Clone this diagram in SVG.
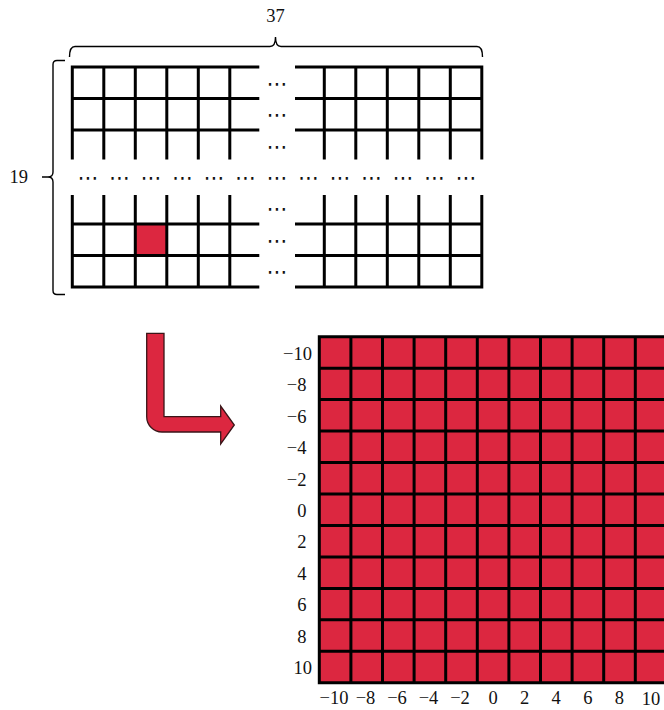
<svg xmlns="http://www.w3.org/2000/svg" width="664" height="710" viewBox="0 0 664 710">
<style>
.g{stroke:#000;stroke-width:3;fill:none;stroke-linecap:square}
.br{stroke:#000;stroke-width:1.4;fill:none}
.t{font-family:"Liberation Serif","DejaVu Serif",serif;font-size:18.5px;fill:#111}
.d{font-family:"DejaVu Sans",sans-serif;font-size:21px;fill:#111;text-anchor:middle}
.m{text-anchor:middle}
.e{text-anchor:end}
</style>
<rect width="664" height="710" fill="#fff"/>
<g id="brace-top">
<path class="br" d="M69.5,57 Q69.5,46.5 75,46.5 L270,46.5 Q275.5,46.5 275.5,37 Q275.5,46.5 281,46.5 L477,46.5 Q482.5,46.5 482.5,57"/>
<text class="t m" x="275.5" y="22">37</text>
</g>
<g id="brace-left">
<path class="br" d="M65,60.5 L57,60.5 Q53,60.5 53,64.5 L53,172 Q53,177 48,177 L42,177 M48,177 Q53,177 53,182 L53,290.5 Q53,294.5 57,294.5 L65,294.5"/>
<text class="t m" x="18.8" y="183">19</text>
</g>
<g id="input-grid">
<rect x="135.3" y="224" width="31.5" height="31.5" fill="#DC2740"/>
<path class="g" d="M72.3,67H257.8M72.3,98.5H257.8M72.3,130H257.8M296.5,67H481.8M296.5,98.5H481.8M296.5,130H481.8
M72.3,67V158M103.8,67V158M135.3,67V158M166.8,67V158M198.3,67V158M229.8,67V158
M324.3,67V158M355.8,67V158M387.3,67V158M418.8,67V158M450.3,67V158M481.8,67V158
M72.3,224H257.8M72.3,255.5H257.8M72.3,287H257.8M296.5,224H481.8M296.5,255.5H481.8M296.5,287H481.8
M72.3,196.5V287M103.8,196.5V287M135.3,196.5V287M166.8,196.5V287M198.3,196.5V287M229.8,196.5V287
M324.3,196.5V287M355.8,196.5V287M387.3,196.5V287M418.8,196.5V287M450.3,196.5V287M481.8,196.5V287"/>
<g class="d">
<text x="88.3" y="184.5">⋯</text><text x="119.8" y="184.5">⋯</text><text x="151.3" y="184.5">⋯</text><text x="182.8" y="184.5">⋯</text><text x="214.3" y="184.5">⋯</text><text x="245.8" y="184.5">⋯</text><text x="277.3" y="184.5">⋯</text><text x="308.8" y="184.5">⋯</text><text x="340.3" y="184.5">⋯</text><text x="371.8" y="184.5">⋯</text><text x="403.3" y="184.5">⋯</text><text x="434.8" y="184.5">⋯</text><text x="466.3" y="184.5">⋯</text>
<text x="277.3" y="90.5">⋯</text><text x="277.3" y="122">⋯</text><text x="277.3" y="153.5">⋯</text>
<text x="277.3" y="216">⋯</text><text x="277.3" y="247.5">⋯</text><text x="277.3" y="279">⋯</text>
</g>
</g>
<g id="connectors">
<path d="M146.7,333.3 L164,333.3 L164,416.7 L220.7,416.7 L220.7,406 L234.3,425 L220.7,444 L220.7,432 L162,432 A15.3,15.3 0 0 1 146.7,416.7 Z" fill="#DC2740" stroke="#3a1518" stroke-width="1.3" stroke-linejoin="miter"/>
</g>
<g id="output-grid">
<rect x="319.3" y="336.7" width="350" height="346.1" fill="#DC2740"/>
<path class="g" d="M319.3,336.7H668M319.3,368.16H668M319.3,399.62H668M319.3,431.08H668M319.3,462.54H668M319.3,494H668M319.3,525.46H668M319.3,556.92H668M319.3,588.38H668M319.3,619.84H668M319.3,651.3H668M319.3,682.8H668
M319.3,336.7V682.8M350.9,336.7V682.8M382.5,336.7V682.8M414.1,336.7V682.8M445.7,336.7V682.8M477.3,336.7V682.8M508.9,336.7V682.8M540.5,336.7V682.8M572.1,336.7V682.8M603.7,336.7V682.8M635.3,336.7V682.8"/>
<g class="t e">
<text x="312" y="359.6">−10</text>
<text x="306.5" y="391.1">−8</text>
<text x="306.5" y="422.5">−6</text>
<text x="306.5" y="454">−4</text>
<text x="306.5" y="485.5">−2</text>
<text x="306.5" y="516.9">0</text>
<text x="306.5" y="548.4">2</text>
<text x="306.5" y="579.8">4</text>
<text x="306.5" y="611.3">6</text>
<text x="306.5" y="642.8">8</text>
<text x="312" y="674.2">10</text>
</g>
<g class="t m">
<text x="334" y="704">−10</text>
<text x="365.5" y="704">−8</text>
<text x="397" y="704">−6</text>
<text x="428.5" y="704">−4</text>
<text x="460" y="704">−2</text>
<text x="493" y="704">0</text>
<text x="524.6" y="704">2</text>
<text x="556.2" y="704">4</text>
<text x="587.8" y="704">6</text>
<text x="619.4" y="704">8</text>
<text x="651" y="705">10</text>
</g>
</g>
</svg>
